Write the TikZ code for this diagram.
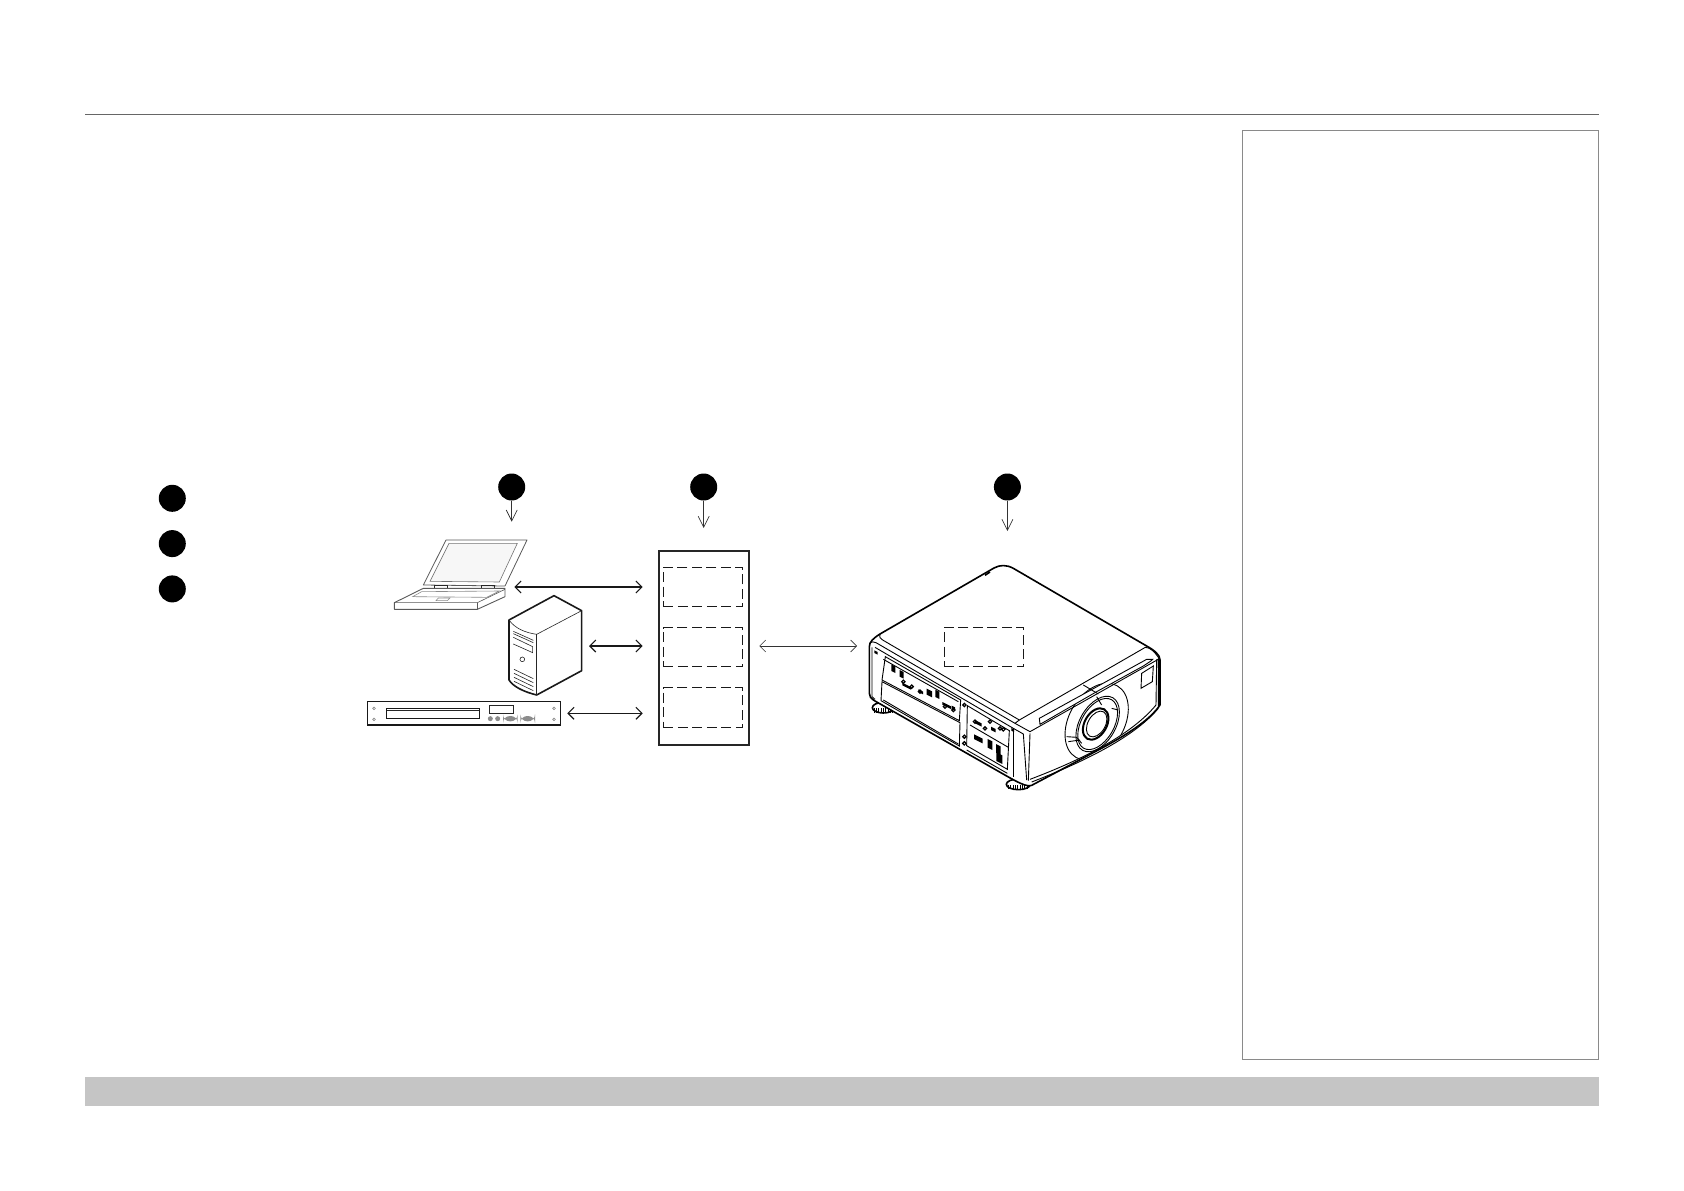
\documentclass[tikz,border=0pt]{standalone}
\usetikzlibrary{arrows.meta,positioning}
\definecolor{barfill}{HTML}{C5C5C5}
\definecolor{ruleline}{HTML}{666666}
\definecolor{panelline}{HTML}{8A8A8A}
\tikzset{
  badge/.style={circle,fill=black,minimum size=27pt,inner sep=0pt,outer sep=0pt},
  rackbox/.style={draw=black!85,line width=1.5pt,minimum width=90pt,minimum height=194pt,inner sep=0pt,outer sep=0pt},
  slotbox/.style={draw=black!90,line width=.9pt,dash pattern=on 10pt off 4.5pt,minimum width=79.5pt,minimum height=39.2pt,inner sep=0pt,outer sep=0pt},
  pointer/.style={-{Straight Barb[length=11pt,width=11pt]},draw=black!80,line width=.7pt},
  linkthick/.style={{Straight Barb[length=6pt,width=12pt]}-{Straight Barb[length=6pt,width=12pt]},line width=1.1pt,draw=black!90},
  linkthin/.style={{Straight Barb[length=6pt,width=12pt]}-{Straight Barb[length=6pt,width=12pt]},line width=.6pt,draw=black!80},
  devline/.style={line width=.6pt,draw=black!85},
  devthick/.style={line width=1.6pt,draw=black!90},
  projline/.style={line width=.9pt,draw=black},
  projthick/.style={line width=1.6pt,draw=black}
}
\begin{document}
\begin{tikzpicture}[x=1pt,y=-1pt,node distance=45.3pt]
  \useasboundingbox (0,0) rectangle (1684,1191);

  % page frame
  \coordinate (ruleL) at (85,114.5);
  \coordinate (ruleR) at (1599,114.5);
  \draw[ruleline,line width=.9pt] (ruleL) -- (ruleR);
  \node[draw=panelline,line width=.9pt,minimum width=356.4pt,minimum height=929pt,inner sep=0pt,outer sep=0pt] (panel) at (1420.5,594.8) {};
  \node[fill=barfill,minimum width=1514pt,minimum height=29pt,inner sep=0pt,outer sep=0pt] (bar) at (842,1091.2) {};

  % legend
  \node[badge] (leg1) at (172.3,498.3) {};
  \node[badge] (leg2) [below of=leg1] {};
  \node[badge] (leg3) [below of=leg2] {};

  % laptop, server, player
  \begin{scope}[shift={(340,460)},scale=1/3]
    \draw[devline,draw=black!65,line width=.8pt,line join=round] (318,240) -- (561,240) -- (495,378) -- (250,375) -- cycle;
    \draw[devline,draw=black!55,fill=black!3] (327,250) -- (532,250) -- (478,366) -- (270,364) -- cycle;
    \draw[devline] (283,376) rectangle (322,385);
    \draw[devline] (424,376) rectangle (463,385);
    \draw[devline,draw=black!65,line width=.9pt,fill=white,line join=round] (250,385) -- (495,385) -- (495,410) -- (412,448) -- (163,448) -- (163,428) -- cycle;
    \draw[devline,draw=black!65] (163,428) -- (412,428) -- (495,388);
    \draw[devline,draw=black!65] (412,428) -- (412,448);
    \draw[devline,draw=black!45] (218,410) -- (245,395) -- (478,393) -- (440,412) -- cycle;
    \draw[devline,draw=black!45] (288,422) -- (295,414) -- (330,414) -- (322,422) -- cycle;

    \draw[devthick,fill=white,line join=round] (507,480) -- (642,407) -- (725,452) -- (725,632) -- (590,705) .. controls (550,695) and (520,680) .. (507,660) -- cycle;
    \draw[devline] (507,480) .. controls (525,505) and (555,518) .. (590,523) -- (725,452);
    \draw[devline] (590,523) -- (590,705);
    \draw[devline] (520,514) -- (580,541) (520,521) -- (580,548);
    \draw[devline] (520,532) -- (578,560) -- (578,578) -- (520,552);
    \draw[devline] (547,598) circle (7);
    \foreach \ya in {628,640,652,664} {
      \draw[devline] (522,\ya) -- (580,\ya+28);
    }

    \draw[devthick,fill=white] (82,725) rectangle (661,795);
    \draw[devthick,line width=1.5pt] (140,745) rectangle (418,775);
    \draw[devline] (142,752) -- (416,752);
    \draw[devline] (448,737) rectangle (521,760);
    \foreach \xa/\ya in {102/745,102/778,642/745,642/778} {
      \draw[devline,draw=black!50] (\xa,\ya) circle (4);
    }
    \foreach \xa in {451,473} {
      \fill[black!45] (\xa,776) circle (7.5);
    }
    \fill[black!45,rounded corners=7pt] (489,768) rectangle (533,784);
    \fill[black!45,rounded corners=7pt] (541,768) rectangle (585,784);
  \end{scope}

  % projector
  \begin{scope}[shift={(850,540)},scale=1/3]
    \draw[projthick,fill=white] (100,503) ellipse (33 and 16);
    \draw[projthick,fill=white] (505,733) ellipse (36 and 16);
    \foreach \xa in {72,79,86,93,100,107,114,121,128} {
      \draw[projline,line width=.6pt] (\xa,505) -- (\xa,518);
    }
    \foreach \xa in {475,482,489,496,503,510,517,524,531} {
      \draw[projline,line width=.6pt] (\xa,735) -- (\xa,748);
    }
    \draw[projthick,fill=white,line join=round] (58,320) .. controls (58,305) and (70,295) .. (90,282) -- (432,84) .. controls (450,74) and (470,74) .. (490,85) -- (890,318) .. controls (915,332) and (930,345) .. (930,360) -- (930,495) .. controls (900,540) and (830,585) .. (745,630) -- (545,736) .. controls (530,742) and (500,725) .. (470,708) -- (75,483) .. controls (62,475) and (58,470) .. (58,460) -- cycle;
    \draw[projthick] (420,96) -- (405,106);
    % top edges
    \draw[projline] (90,282) .. controls (88,292) and (90,296) .. (98,300) -- (508,540) -- (886,322) .. controls (900,322) and (915,335) .. (930,360);
    \draw[projline] (60,308) .. controls (65,305) and (72,305) .. (78,308) -- (495,550) -- (540,575) -- (930,355);
    \draw[projline] (495,550) -- (508,540);
    \draw[projline] (75,322) -- (490,565) -- (520,582) (520,582) -- (530,720);
    \draw[projline] (66,322) -- (66,470) -- (75,478);
    \draw[projline] (540,580) -- (535,722);
    \draw[projline] (490,565) -- (490,712);
    % lens rings
    \begin{scope}
      \clip (540,718) .. controls (680,665) and (840,590) .. (918,495) -- (930,300) -- (540,300) -- cycle;
      \draw[projline] (740,545) ellipse [x radius=83,y radius=124,rotate=-30];
    \end{scope}
    \draw[projline] (743,552) ellipse [x radius=54,y radius=91,rotate=-30];
    \draw[projline] (743,552) ellipse [x radius=49,y radius=84,rotate=-30];
    \draw[projthick,line width=2pt] (737,552) ellipse [x radius=33,y radius=51,rotate=-30];
    \draw[projline] (740,552) ellipse [x radius=26,y radius=42,rotate=-30];
    \draw[projline] (650,590) -- (680,592) -- (695,610) (655,605) -- (690,600) (740,470) -- (755,495) (785,505) -- (805,510);
    % vent and front face
    \draw[projline,fill=white] (568,535) -- (570,553) -- (740,455) -- (880,378) .. controls (895,368) and (905,362) .. (908,358) -- (890,358) -- cycle;
    \draw[projline] (700,435) -- (745,462);
    \draw[projline] (875,400) -- (910,378) -- (907,425) -- (873,445) -- cycle;
    \draw[projline] (920,358) -- (918,495) (925,355) -- (925,500);
    \draw[projline] (540,718) .. controls (680,665) and (840,590) .. (918,495);
    \draw[projline] (545,726) .. controls (690,670) and (850,595) .. (925,505);
    % rear panels
    \draw[projline] (106,350) -- (332,480) -- (328,542) -- (96,420) -- cycle;
    \draw[projline] (100,358) -- (325,485);
    \draw[projline] (96,425) -- (93,482) -- (328,618) -- (330,548) -- cycle;
    \draw[projline] (100,480) -- (325,612);
    \draw[projline] (352,497) -- (478,572) -- (472,688) -- (350,617) -- cycle;
    \draw[projline] (350,630) -- (472,700);
    \draw[projline] (360,555) -- (475,622);
    \foreach \xa/\ya/\wa/\ha in {130/383/12/20,155/400/12/20,170/432/26/8,212/452/14/8,238/455/16/18,262/460/12/22,290/490/26/8,310/502/10/10,385/545/20/10,430/565/14/10,385/590/26/14,420/610/14/26,445/625/14/26,448/650/18/26,78/335/10/8,488/568/8/8} {
      \fill[black] (\xa-\wa/2,\ya-\ha/2) -- ++(\wa,.5*\wa) -- ++(0,\ha) -- ++(-\wa,-.5*\wa) -- cycle;
    }
    \foreach \xa/\ya in {343/495,343/590,343/610,420/545,450/565,460/568,160/425,185/440,210/455,285/500,310/510,375/545,405/565} {
      \draw[projline,line width=1.2pt] (\xa,\ya) circle (5);
    }
  \end{scope}

  % badges and rack
  \node[badge] (src) at (511.7,487) {};
  \node[badge] (ctl) at (703.7,487) {};
  \node[badge] (prj) at (1007.4,487) {};
  \node[rackbox] (rack) at (704,648) {};
  \node[slotbox] (slot1) at (703,586.8) {};
  \node[slotbox] (slot2) [below=21.1pt of slot1] {};
  \node[slotbox] (slot3) [below=21.1pt of slot2] {};
  \node[slotbox] (slot4) at (984,647) {};

  \coordinate (srcEnd) at (511.7,521.7);
  \coordinate (ctlEnd) at (703.7,528);
  \coordinate (prjEnd) at (1007.4,531);
  \draw[pointer] (src) -- (srcEnd);
  \draw[pointer] (ctl) -- (ctlEnd);
  \draw[pointer] (prj) -- (prjEnd);

  \coordinate (laptopR) at (514.3,587);
  \coordinate (rackA) at (642.7,587);
  \coordinate (serverR) at (589,646);
  \coordinate (rackB) at (642.7,646);
  \coordinate (playerR) at (567.3,713.3);
  \coordinate (rackC) at (642.7,713.3);
  \coordinate (rackD) at (759.3,646);
  \coordinate (projL) at (857,646);
  \draw[linkthick] (laptopR) -- (rackA);
  \draw[linkthick] (serverR) -- (rackB);
  \draw[linkthick] (playerR) -- (rackC);
  \draw[linkthin] (rackD) -- (projL);
\end{tikzpicture}
\end{document}
